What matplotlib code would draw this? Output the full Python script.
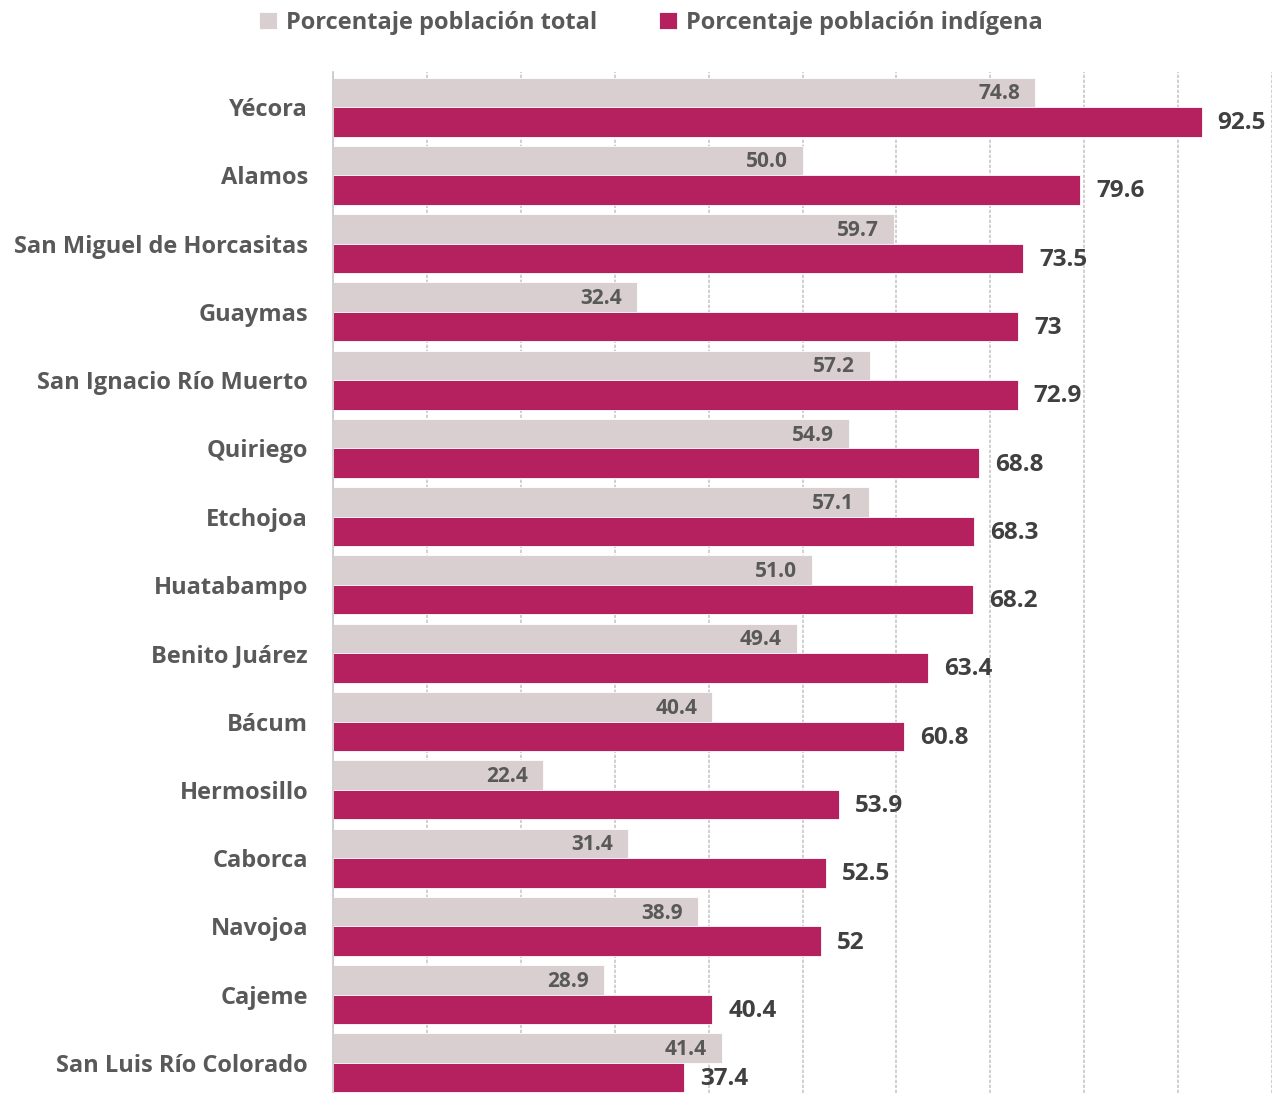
import numpy as np
import matplotlib.pyplot as plt

municipios = ['Yécora', 'Alamos', 'San Miguel de Horcasitas', 'Guaymas',
              'San Ignacio Río Muerto', 'Quiriego', 'Etchojoa', 'Huatabampo',
              'Benito Juárez', 'Bácum', 'Hermosillo', 'Caborca', 'Navojoa',
              'Cajeme', 'San Luis Río Colorado']
pob_total = [74.8, 50.0, 59.7, 32.4, 57.2, 54.9, 57.1, 51.0, 49.4, 40.4,
             22.4, 31.4, 38.9, 28.9, 41.4]
pob_indigena = [92.5, 79.6, 73.5, 73, 72.9, 68.8, 68.3, 68.2, 63.4, 60.8,
                53.9, 52.5, 52, 40.4, 37.4]
etiq_total = ['74.8', '50.0', '59.7', '32.4', '57.2', '54.9', '57.1', '51.0',
              '49.4', '40.4', '22.4', '31.4', '38.9', '28.9', '41.4']
etiq_indigena = ['92.5', '79.6', '73.5', '73', '72.9', '68.8', '68.3', '68.2',
                 '63.4', '60.8', '53.9', '52.5', '52', '40.4', '37.4']

gris = '#D9CFD0'
magenta = '#B5215E'
texto = '#595959'

plt.rcParams['font.family'] = ['Open Sans', 'DejaVu Sans']

fig = plt.figure(figsize=(12.78, 10.93), dpi=100)
ax = fig.add_axes([333 / 1278, 0, (1272 - 333) / 1278, 1 - 72 / 1093])

y = np.arange(len(municipios))
h = 0.432
b1 = ax.barh(y - h / 2, pob_total, height=h, color=gris, edgecolor='white',
             linewidth=0.6, label='Porcentaje población total', zorder=2)
b2 = ax.barh(y + h / 2, pob_indigena, height=h, color=magenta, edgecolor='white',
             linewidth=0.6, label='Porcentaje población indígena', zorder=2)

for i in range(len(municipios)):
    ax.text(pob_total[i] - 1.6, y[i] - h / 2 + 0.02, etiq_total[i], ha='right',
            va='center', fontsize=15, fontweight='bold', color=texto, zorder=3)
    ax.text(pob_indigena[i] + 1.7, y[i] + h / 2 + 0.02, etiq_indigena[i], ha='left',
            va='center', fontsize=17.5, fontweight='bold', color='#404040', zorder=3)

ax.set_xlim(0, 100)
ax.set_ylim(14.44, -0.513)
ax.set_xticks(np.arange(0, 101, 10))
ax.tick_params(axis='x', length=0, labelbottom=False)
ax.set_yticks(y)
ax.set_yticklabels(municipios, fontsize=17, fontweight='bold', color=texto)
ax.tick_params(axis='y', length=0, pad=18)
ax.grid(axis='x', color='#C8C8C8', linestyle=(0, (2, 1)), linewidth=1.2, zorder=0)
for s in ['top', 'right', 'bottom']:
    ax.spines[s].set_visible(False)
ax.spines['left'].set_color('#C8C8C8')
ax.spines['left'].set_linewidth(1.2)

fig.legend(handles=[b1, b2], loc='center', bbox_to_anchor=(651 / 1278, 1 - 23 / 1093),
           ncol=2, frameon=False, handlelength=0.75, handleheight=0.75,
           handletextpad=0.4, columnspacing=2.6, labelcolor=texto,
           prop={'weight': 'bold', 'size': 17})

fig.savefig('out.png', dpi=100)
